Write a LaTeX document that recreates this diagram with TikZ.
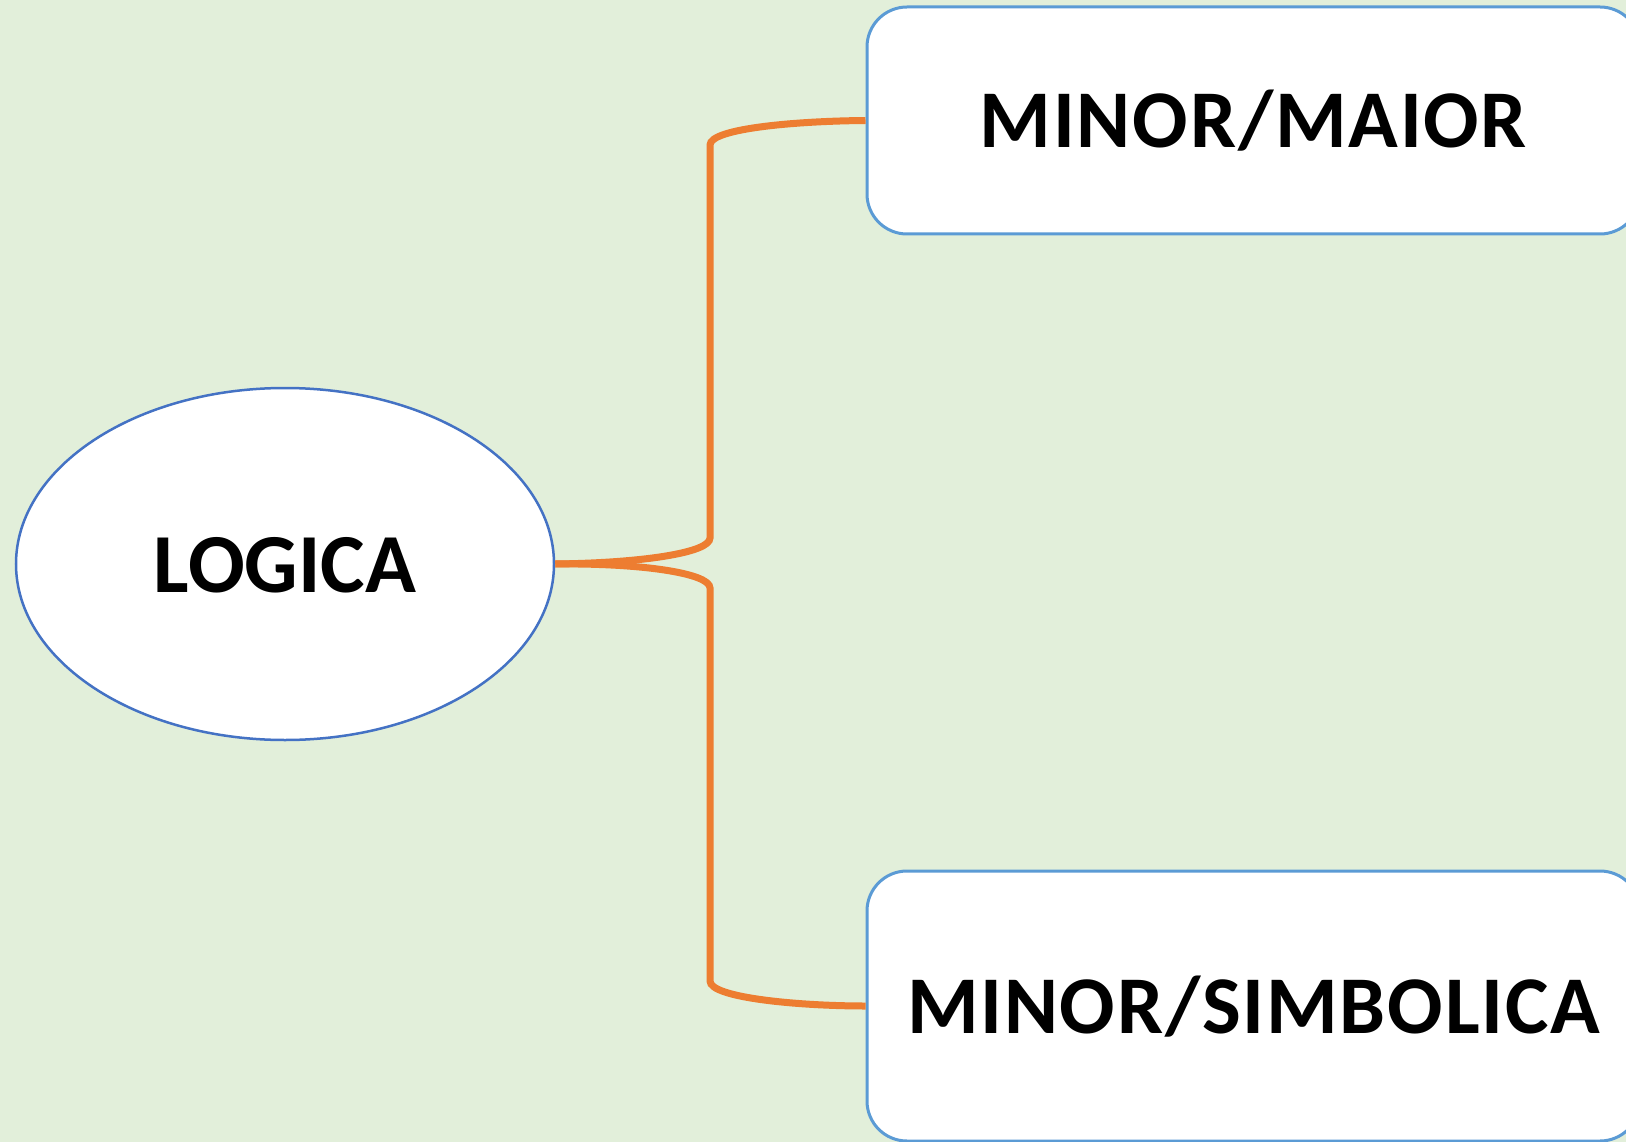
\documentclass[tikz,border=0pt]{standalone}
\usepackage{fontspec}
\setmainfont{Carlito}
\newfontfamily\boxfont[LetterSpace=2.2]{Carlito}
\usetikzlibrary{shapes.geometric}
\definecolor{bggreen}{HTML}{E2EFDA}
\definecolor{conorange}{HTML}{ED7D31}
\definecolor{ellblue}{HTML}{4472C4}
\definecolor{boxblue}{HTML}{5B9BD5}
\begin{document}
\begin{tikzpicture}[x=1pt,y=-1pt,
  rootnode/.style={ellipse,draw=ellblue,line width=2.5pt,fill=white,minimum width=538pt,minimum height=352pt,inner sep=0pt,text height=56pt,text depth=-2pt,font=\fontsize{84}{90}\selectfont\bfseries},
  leafbox/.style={rectangle,rounded corners=40pt,draw=boxblue,line width=3pt,fill=white,minimum width=773pt,inner sep=0pt,text height=55pt,text depth=-3pt,font=\boxfont\fontsize{82}{90}\selectfont\bfseries},
  conn/.style={draw=conorange,line width=7pt}]
\useasboundingbox (0,0) rectangle (1626,1142);
\clip (0,0) rectangle (1626,1142);
\fill[bggreen] (0,0) rectangle (1626,1142);
\node[rootnode] (logica) at (285,564) {LOGICA};
\node[leafbox,minimum height=227pt] (maior) at (1253.5,120.5) {MINOR/MAIOR};
\node[leafbox,minimum height=270pt] (simb) at (1253.5,1006) {MINOR/SIMBOLICA};
\coordinate (ua) at (710,538);
\coordinate (ub) at (710,145);
\coordinate (la) at (710,588);
\coordinate (lb) at (710,981);
\draw[conn] (logica.east) .. controls (640,563) and (710,553) .. (ua) -- (ub) .. controls (710,128) and (800,121) .. (maior.west);
\draw[conn] (logica.east) .. controls (640,563) and (710,573) .. (la) -- (lb) .. controls (710,998) and (800,1006) .. (simb.west);
\end{tikzpicture}
\end{document}
